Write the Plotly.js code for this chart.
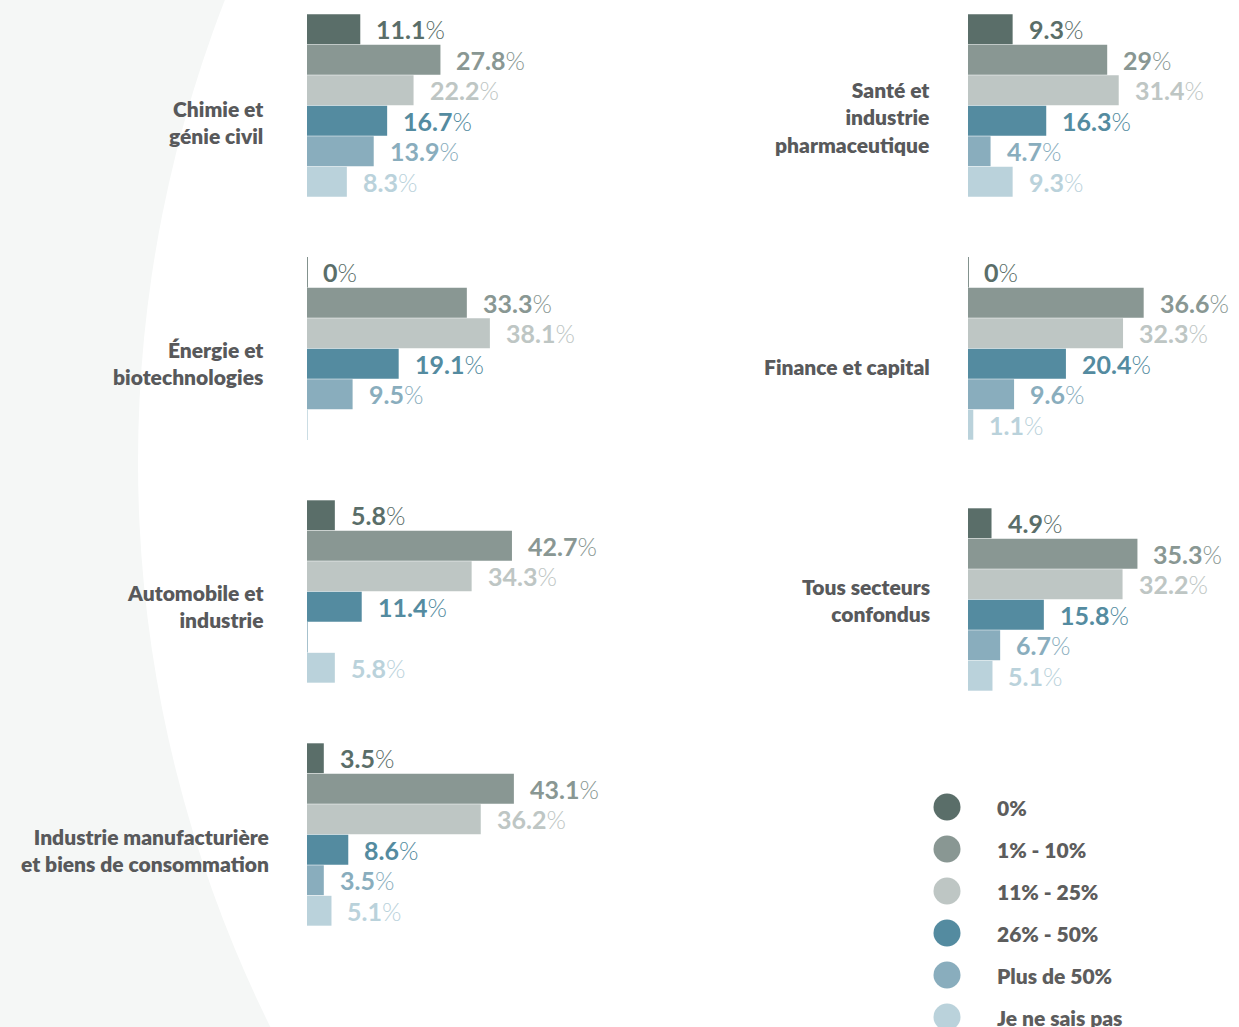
<!DOCTYPE html>
<html>
<head>
<meta charset="utf-8">
<script src="https://cdn.plot.ly/plotly-3.0.1.min.js"></script>
<style>html,body{margin:0;padding:0;background:#fff;}#chart{width:1239px;height:1027px;}</style>
</head>
<body>
<div id="chart"></div>
<script>
// ---- data ----
const categories = ["0%", "1% - 10%", "11% - 25%", "26% - 50%", "Plus de 50%", "Je ne sais pas"];
const sectors = [
  "Chimie et<br>génie civil",
  "Énergie et<br>biotechnologies",
  "Automobile et<br>industrie",
  "Industrie manufacturière<br>et biens de consommation",
  "Santé et<br>industrie<br>pharmaceutique",
  "Finance et capital",
  "Tous secteurs<br>confondus"
];
const chimie    = [11.1, 27.8, 22.2, 16.7, 13.9, 8.3];
const energie   = [0, 33.3, 38.1, 19.1, 9.5, null];
const automobile= [5.8, 42.7, 34.3, 11.4, null, 5.8];
const industrie = [3.5, 43.1, 36.2, 8.6, 3.5, 5.1];
const sante     = [9.3, 29, 31.4, 16.3, 4.7, 9.3];
const finance   = [0, 36.6, 32.3, 20.4, 9.6, 1.1];
const tous      = [4.9, 35.3, 32.2, 15.8, 6.7, 5.1];
const seriesValues = [chimie, energie, automobile, industrie, sante, finance, tous];

// ---- styling / layout ----
const colors = ["#5a6e69", "#899793", "#bec6c4", "#548ba0", "#89adbd", "#bad2db"];
const W = 1239, H = 1027;
const X = px => px / W;
const Y = py => 1 - py / H;
const PXPERPCT = 4.8, XMAX = 50;
// panel geometry: [left px, top px, label right px, label center y px]
const panels = [
  [307, 14, 266, 122],
  [307, 257, 266, 363],
  [307, 500, 266, 606],
  [307, 743, 271, 850],
  [968, 14, 932, 117],
  [968, 257, 932, 366],
  [968, 508, 932, 600]
];
const PANEL_H = 183;
const FONT = "Lato, 'Open Sans', sans-serif";

const data = [], annotations = [], shapes = [];
const layout = {
  width: W, height: H,
  margin: {l: 0, r: 0, t: 0, b: 0},
  paper_bgcolor: "#f5f7f6",
  plot_bgcolor: "rgba(0,0,0,0)",
  showlegend: false,
  bargap: 0.02,
  font: {family: FONT}
};

// background white circle (curve on the left)
const r = 1272, cx = 138 + r, cy = 462;
shapes.push({type: "circle", xref: "paper", yref: "paper", layer: "below",
  x0: X(cx - r), x1: X(cx + r), y0: Y(cy + r), y1: Y(cy - r),
  fillcolor: "#ffffff", line: {width: 0}});

panels.forEach((p, k) => {
  const idx = k + 1;
  const xa = "x" + idx, ya = "y" + idx;
  const vals = seriesValues[k];
  data.push({
    type: "bar", orientation: "h",
    x: vals, y: categories,
    xaxis: xa, yaxis: ya,
    marker: {color: colors, line: {width: 0}},
    hoverinfo: "skip"
  });
  layout["xaxis" + idx] = {
    domain: [X(p[0]), X(p[0] + XMAX * PXPERPCT)], range: [0, XMAX],
    visible: false, fixedrange: true, anchor: ya
  };
  layout["yaxis" + idx] = {
    domain: [Y(p[1] + PANEL_H), Y(p[1])], type: "category",
    range: [categories.length - 0.5, -0.5],
    visible: false, fixedrange: true, anchor: xa
  };
  vals.forEach((v, i) => {
    if (v === null || v === 0) {
      shapes.push({type: "line", xref: xa, yref: ya, x0: 0, x1: 0,
        y0: i - 0.5, y1: i + 0.5, line: {color: colors[i], width: 1.5}});
    }
    if (v !== null) {
      annotations.push({
        xref: xa, yref: ya, x: v, y: categories[i],
        xanchor: "left", yanchor: "middle", xshift: 14, yshift: 0,
        showarrow: false,
        text: '<b>' + String(v) + '</b>%',
        font: {family: FONT, size: 25, color: colors[i], weight: 300}
      });
    }
  });
  annotations.push({
    xref: "paper", yref: "paper", x: X(p[2]), y: Y(p[3]),
    xanchor: "right", yanchor: "middle", align: "right",
    showarrow: false, text: sectors[k],
    font: {family: FONT, size: 21, color: "#58595b", weight: 800}
  });
});

// custom legend
const L = 8;
const legTop = 786, legStep = 42, legFirst = 807;
data.push({
  type: "scatter", mode: "markers",
  x: categories.map(() => 0), y: categories,
  xaxis: "x" + L, yaxis: "y" + L,
  marker: {size: 27, color: colors, line: {width: 0}},
  hoverinfo: "skip", cliponaxis: false
});
layout["xaxis" + L] = {domain: [X(933), X(961)], range: [-1, 1], visible: false, fixedrange: true, anchor: "y" + L};
layout["yaxis" + L] = {domain: [0, Y(legTop)], type: "category",
  range: [(H - legFirst) / legStep, -0.5], visible: false, fixedrange: true, anchor: "x" + L};
categories.forEach((c, i) => {
  annotations.push({
    xref: "x" + L, yref: "y" + L, x: 0, y: c,
    xanchor: "left", yanchor: "middle", xshift: 48,
    showarrow: false, text: c,
    font: {family: FONT, size: 21, color: "#5d5d5d", weight: 800}
  });
});

layout.annotations = annotations;
layout.shapes = shapes;

Plotly.newPlot("chart", data, layout, {staticPlot: true, displayModeBar: false});
</script>
</body>
</html>
